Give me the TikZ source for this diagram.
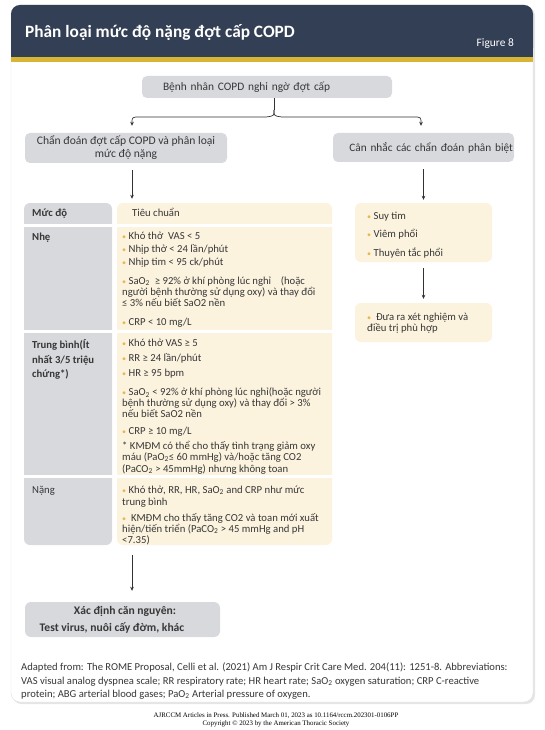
\documentclass[tikz,border=0pt]{standalone}
\usepackage{fontspec}
\setmainfont{Carlito}
\newfontfamily\footfont{Liberation Serif}
\usetikzlibrary{arrows.meta}

\definecolor{headcol}{RGB}{51,63,84}
\definecolor{bandcol}{RGB}{216,181,53}
\definecolor{greycol}{RGB}{216,217,221}
\definecolor{creamcol}{RGB}{252,243,223}
\definecolor{bulcol}{RGB}{232,184,78}
\definecolor{inkcol}{RGB}{55,55,55}
\definecolor{arrcol}{RGB}{50,50,50}
\newcommand{\bul}{{\color{bulcol}\footnotesize\textbullet}\ }
\newcommand{\sub}[1]{\textsubscript{#1}}

\tikzset{
  greybox/.style={shape=rectangle, fill=greycol, rounded corners=5pt, inner sep=0pt, text=inkcol},
  creambox/.style={shape=rectangle, fill=creamcol, rounded corners=6pt, inner sep=0pt},
  celltext/.style={anchor=base west, inner sep=0pt, align=left, text=inkcol, font=\fontsize{10.7}{11}\selectfont},
  link/.style={draw=arrcol, line width=0.7pt, -{Stealth[length=4pt,width=3.6pt]}},
}

\begin{document}
\begin{tikzpicture}[x=1pt, y=-1pt]
    \useasboundingbox (0,0) rectangle (544,730);
    % card and header
    \fill[black!10, rounded corners=9pt] (12.5,6.5) rectangle (535,704);
    \fill[white, draw=black!12, rounded corners=9pt] (11,5) rectangle (533,702);
    \fill[headcol, rounded corners=9pt] (11,5) rectangle (533,57);
    \fill[headcol] (11,40) rectangle (533,57);
    \fill[bandcol] (11,57) rectangle (533,62);
    \node[anchor=base west, inner sep=0pt, text=white, font=\bfseries\fontsize{17.3}{20}\selectfont] (T) at (25,37.5) {Phân loại mức độ nặng đợt cấp COPD};
    \node[anchor=base east, inner sep=0pt, text=white, font=\fontsize{11.4}{13}\selectfont] (F) at (514,47) {Figure 8};

    % flow boxes
    \node[greybox, minimum width=250pt, minimum height=22pt, text width=208pt, inner xsep=21pt, align=left, font=\fontsize{11.4}{13}\selectfont] (B1) at (267,87) {Bệnh nhân COPD nghi ngờ đợt cấp};
    \node[greybox, minimum width=202pt, minimum height=30pt, align=center, font=\fontsize{11.6}{13}\selectfont] (B2) at (126,148) {Chẩn đoán đợt cấp COPD và phân loại\\mức độ nặng};
    \node[greybox, minimum width=181pt, minimum height=29pt, text width=179pt, inner xsep=1pt, align=right, font=\fontsize{11.3}{13}\selectfont] (B3) at (423.5,147.5) {Cân nhắc các chẩn đoán phân biệt};

    % table columns
    \node[greybox, rounded corners=6pt, minimum width=88pt, minimum height=342pt] (LC) at (68,374) {};
    \node[creambox, minimum width=215pt, minimum height=342pt] (KC) at (224.5,374) {};
    \draw[white, line width=3pt] (20,225.5) -- (340,225.5);
    \draw[white, line width=3pt] (20,331.5) -- (340,331.5);
    \draw[white, line width=3pt] (20,476.5) -- (340,476.5);

    \node[celltext, font=\bfseries\fontsize{10.7}{11}\selectfont] (L0) at (32,216) {Mức độ};
    \node[celltext, font=\bfseries\fontsize{10.7}{11}\selectfont] (L1) at (32,240) {Nhẹ};
    \node[celltext, font=\bfseries\fontsize{10.7}{11}\selectfont] (L2) at (32,377) {Trung bình(Ít\\[4pt]nhất 3/5 triệu\\[3pt]chứng*)};
    \node[celltext] (L3) at (32,493) {Nặng};

    \node[celltext] (K0) at (132,216) {Tiêu chuẩn};
    \node[celltext] (K1) at (122,325) {\bul Khó thở\ \ VAS < 5\\[2.3pt]
        \bul Nhịp thở < 24 lần/phút\\[2.3pt]
        \bul Nhịp tim < 95 ck/phút\\[7.4pt]
        \bul SaO\sub{2}\ \ ≥ 92\% ở khí phòng lúc nghỉ\ \ \ \ (hoặc\\
        người bệnh thường sử dụng oxy) và thay đổi\\
        ≤ 3\% nếu biết SaO2 nền\\[8pt]
        \bul CRP < 10 mg/L};
    \node[celltext] (K2) at (122,472) {\bul Khó thở VAS ≥ 5\\[4pt]
        \bul RR ≥ 24 lần/phút\\[4pt]
        \bul HR ≥ 95 bpm\\[8pt]
        \bul SaO\sub{2} < 92\% ở khí phòng lúc nghỉ(hoặc người\\[-0.5pt]
        bệnh thường sử dụng oxy) và thay đổi > 3\%\\
        nếu biết SaO2 nền\\[6pt]
        \bul CRP ≥ 10 mg/L\\[4pt]
        * KMĐM có thể cho thấy tình trạng giảm oxy\\
        máu (PaO\sub{2}≤ 60 mmHg) và/hoặc tăng CO2\\[1pt]
        (PaCO\sub{2} > 45mmHg) nhưng không toan};
    \node[celltext] (K3) at (122,543) {\bul Khó thở, RR, HR, SaO\sub{2} and CRP như mức\\[1pt]
        trung bình\\[5pt]
        \bul\ KMĐM cho thấy tăng CO2 và toan mới xuất\\
        hiện/tiến triển (PaCO\sub{2} > 45 mmHg and pH\\
        <7.35)};

    % right branch
    \node[creambox, minimum width=137pt, minimum height=59pt] (R1) at (423.5,232.5) {};
    \node[creambox, minimum width=137pt, minimum height=39pt] (R2) at (423.5,322.5) {};
    \node[celltext] (S1) at (367,256) {\bul Suy tim\\[7pt]\bul Viêm phổi\\[8pt]\bul Thuyên tắc phổi};
    \node[celltext] (S2) at (367,331) {\bul\ Đưa ra xét nghiệm và\\điều trị phù hợp};

    % bottom box
    \node[greybox, rounded corners=6pt, minimum width=195pt, minimum height=35pt, align=center, font=\bfseries\fontsize{11.6}{17}\selectfont] (E) at (122.5,619.5) {\hspace*{5pt}Xác định căn nguyên:\\Test virus, nuôi cấy đờm, khác\hspace*{21pt}};

    % connectors
    \coordinate (J) at (274,110);
    \draw[draw=arrcol, line width=0.7pt] ([xshift=7pt]B1.south) to (J);
    \draw[link, shorten >=7pt] (J) .. controls (274,116) .. (266,117) -- (140,117) .. controls (132,117) .. ([xshift=6pt]B2.north);
    \draw[link, shorten >=7pt] (J) .. controls (274,116) .. (282,117) -- (413,117) .. controls (421,117) .. ([xshift=-2.5pt]B3.north);
    \draw[link, shorten <=7pt, shorten >=4pt] ([xshift=6pt]B2.south) to ([xshift=6pt]B2.south |- KC.north);
    \draw[link, shorten <=7pt, shorten >=3pt] (B3.south) to (R1.north);
    \draw[link, shorten <=6pt, shorten >=4pt] (R1.south) to (R2.north);
    \draw[link, shorten <=10pt, shorten >=11pt] ([xshift=6pt]B2.south |- KC.south) to ([xshift=6pt]B2.south |- E.north);

    % notes
    \node[celltext, font=\fontsize{10.6}{11}\selectfont] (N) at (21,697) {Adapted from: The ROME Proposal, Celli et al. (2021) Am J Respir Crit Care Med. 204(11): 1251-8. Abbreviations:\\[3pt]
        VAS visual analog dyspnea scale; RR respiratory rate; HR heart rate; SaO\sub{2} oxygen saturation; CRP C-reactive\\[2pt]
        protein; ABG arterial blood gases; PaO\sub{2} Arterial pressure of oxygen.};
    \node[anchor=base, inner sep=0pt, align=center, font=\footfont\fontsize{6.9}{7.2}\selectfont] (P) at (276,725) {AJRCCM Articles in Press. Published March 01, 2023 as 10.1164/rccm.202301-0106PP\\Copyright © 2023 by the American Thoracic Society};
\end{tikzpicture}
\end{document}
